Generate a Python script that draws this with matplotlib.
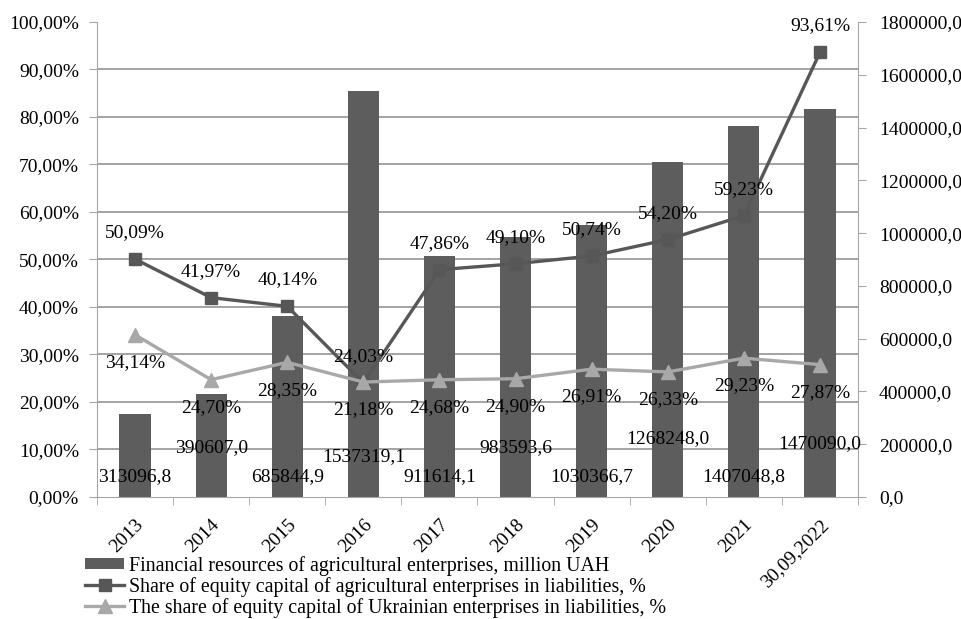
import matplotlib.pyplot as plt
from matplotlib.ticker import MultipleLocator, FuncFormatter

# data
years = ["2013", "2014", "2015", "2016", "2017", "2018", "2019", "2020", "2021", "30,09,2022"]
financial_resources = [313096.8, 390607.0, 685844.9, 1537319.1, 911614.1,
                       983593.6, 1030366.7, 1268248.0, 1407048.8, 1470090.0]
share_agri = [50.09, 41.97, 40.14, 24.03, 47.86, 49.10, 50.74, 54.20, 59.23, 93.61]
share_ukr = [34.14, 24.70, 28.35, 24.20, 24.68, 24.90, 26.91, 26.33, 29.23, 27.87]
share_ukr_labels = ["34,14%", "24,70%", "28,35%", "21,18%", "24,68%",
                    "24,90%", "26,91%", "26,33%", "29,23%", "27,87%"]

# where the bar value labels sit (fraction of axes height)
bar_label_pos = [0.044, 0.103, 0.044, 0.086, 0.044, 0.103, 0.044, 0.122, 0.044, 0.112]

plt.rcParams['font.family'] = ['Liberation Serif', 'DejaVu Serif']
plt.rcParams['font.size'] = 14

bar_color = '#5d5d5d'
dark_line = '#575757'
light_line = '#a8a8a8'
grid_color = '#8a8a8a'
spine_color = '#a6a6a6'

fig = plt.figure(figsize=(9.62, 6.19), dpi=100)
ax = fig.add_axes([0.1008, 0.1971, 0.7911, 0.7674])
x = list(range(len(years)))

bars = ax.bar(x, financial_resources, width=0.41, color=bar_color, zorder=2,
              label="Financial resources of agricultural enterprises, million UAH")

# lines go on the twin, so they are drawn above the bars
ax2 = ax.twinx()
ax2.yaxis.tick_left()
ax.yaxis.tick_right()

ax.set_ylim(0, 1800000)
ax.set_xlim(-0.5, len(years) - 0.5)
ax.yaxis.set_major_locator(MultipleLocator(200000))
ax.yaxis.set_major_formatter(FuncFormatter(lambda v, p: f"{v:.1f}".replace('.', ',')))
ax.yaxis.set_minor_locator(MultipleLocator(180000))
ax.grid(which='minor', axis='y', color=grid_color, linewidth=1.1, zorder=0)
ax.set_axisbelow(True)
ax.tick_params(axis='y', which='minor', length=0)
ax.tick_params(axis='y', which='major', length=6, color=spine_color, pad=9,
               labelsize=14, right=True, left=False, labelright=True, labelleft=False)

ax.set_xticks(x)
ax.set_xticklabels(years, rotation=45, ha='right', va='top', rotation_mode='anchor')
ax.set_xticks([i - 0.5 for i in range(len(years) + 1)], minor=True)
ax.tick_params(axis='x', which='major', length=0, pad=14)
ax.tick_params(axis='x', which='minor', length=6, color=spine_color)

for s in ax.spines.values():
    s.set_color(spine_color)
ax.spines['top'].set_visible(False)

for i, v in enumerate(financial_resources):
    ax.text(i, bar_label_pos[i], f"{v:.1f}".replace('.', ','),
            transform=ax.get_xaxis_transform(), ha='center', va='center', zorder=5)

ax2.set_ylim(0, 100)
ax2.yaxis.set_major_locator(MultipleLocator(10))
ax2.yaxis.set_major_formatter(FuncFormatter(lambda v, p: f"{v:.2f}%".replace('.', ',')))
ax2.tick_params(axis='y', length=6, color=spine_color, pad=7, labelsize=14,
                left=True, right=False, labelleft=True, labelright=False)
for s in ax2.spines.values():
    s.set_visible(False)

l1, = ax2.plot(x, share_agri, color=dark_line, linewidth=2.4, marker='s', markersize=9,
               label="Share of equity capital of agricultural enterprises in liabilities, %")
l2, = ax2.plot(x, share_ukr, color=light_line, linewidth=2.4, marker='^', markersize=10,
               label="The share of equity capital of Ukrainian enterprises in liabilities, %")

for i, v in enumerate(share_agri):
    ax2.annotate(f"{v:.2f}%".replace('.', ','), (i, v), xytext=(0, 19),
                 textcoords='offset points', ha='center', va='center')
for i, v in enumerate(share_ukr):
    ax2.annotate(share_ukr_labels[i], (i, v), xytext=(0, -20),
                 textcoords='offset points', ha='center', va='center')

fig.legend([bars, l1, l2], [bars.get_label(), l1.get_label(), l2.get_label()],
           loc='upper left', bbox_to_anchor=(0.088, 0.102), frameon=False,
           handlelength=2.0, handleheight=0.5, handletextpad=0.25, labelspacing=0.05,
           borderpad=0, borderaxespad=0, fontsize=14.3)

fig.savefig("out.png", dpi=100)
